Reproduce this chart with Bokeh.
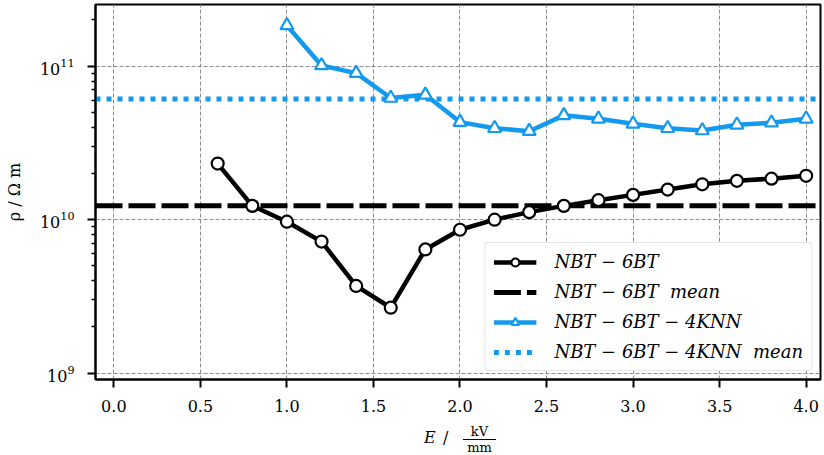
from bokeh.plotting import figure
from bokeh.models import Range1d, FixedTicker, Legend, LegendItem, Div
from bokeh.layouts import column
from bokeh.embed import file_html
from bokeh.resources import INLINE

# ---------------- data ----------------
E_NBT = [0.6, 0.8, 1.0, 1.2, 1.4, 1.6, 1.8, 2.0, 2.2, 2.4, 2.6, 2.8, 3.0, 3.2, 3.4, 3.6, 3.8, 4.0]
RHO_NBT = [2.32e10, 1.23e10, 9.7e9, 7.2e9, 3.7e9, 2.67e9, 6.4e9, 8.6e9, 1.0e10, 1.12e10,
           1.23e10, 1.34e10, 1.45e10, 1.57e10, 1.70e10, 1.79e10, 1.85e10, 1.93e10]
E_KNN = [1.0, 1.2, 1.4, 1.6, 1.8, 2.0, 2.2, 2.4, 2.6, 2.8, 3.0, 3.2, 3.4, 3.6, 3.8, 4.0]
RHO_KNN = [1.84e11, 1.01e11, 9.0e10, 6.2e10, 6.5e10, 4.32e10, 3.94e10, 3.77e10,
           4.78e10, 4.54e10, 4.21e10, 3.94e10, 3.81e10, 4.15e10, 4.28e10, 4.54e10]
MEAN_NBT = 1.23e10
MEAN_KNN = 6.1e10

SERIES_LABELS = ["NBT − 6BT", "NBT − 6BT  mean", "NBT − 6BT − 4KNN", "NBT − 6BT − 4KNN  mean"]

X_TICKS = [0.0, 0.5, 1.0, 1.5, 2.0, 2.5, 3.0, 3.5, 4.0]
X_TICK_LABELS = ["0.0", "0.5", "1.0", "1.5", "2.0", "2.5", "3.0", "3.5", "4.0"]
Y_TICKS = [1e9, 1e10, 1e11]
Y_MINOR = [m * 10.0 ** e for e in (8, 9, 10, 11) for m in range(2, 10)]

X_LO, X_HI = -0.106, 4.083
Y_LO, Y_HI = 9.1e8, 2.52e11

BLUE = "#1399ee"
FONT = "DejaVu Serif"

# ---------------- figure ----------------
p = figure(width=824, height=422, y_axis_type="log",
           x_range=Range1d(X_LO, X_HI), y_range=Range1d(Y_LO, Y_HI),
           output_backend="svg", toolbar_location=None,
           min_border_left=95, min_border_right=4, min_border_top=4, min_border_bottom=43)
p.background_fill_color = "white"
p.border_fill_color = "white"
p.outline_line_color = "black"
p.outline_line_width = 2

# axes
p.xaxis.ticker = FixedTicker(ticks=X_TICKS, minor_ticks=[])
p.xaxis.major_label_overrides = {t: l for t, l in zip(X_TICKS, X_TICK_LABELS)}
p.yaxis.ticker = FixedTicker(ticks=Y_TICKS, minor_ticks=Y_MINOR)
for ax in (p.xaxis[0], p.yaxis[0]):
    ax.axis_line_color = "black"
    ax.axis_line_width = 2
    ax.major_tick_line_color = "black"
    ax.major_tick_line_width = 2
    ax.minor_tick_line_color = "black"
    ax.minor_tick_line_width = 1.5
    ax.major_tick_in = 0
    ax.major_tick_out = 8
    ax.minor_tick_in = 0
    ax.minor_tick_out = 4
    ax.major_label_text_font = FONT
    ax.major_label_text_font_size = "16px"
    ax.major_label_text_color = "black"
p.xaxis.major_label_standoff = 12
p.yaxis.major_label_standoff = 13
p.xaxis.axis_label = None
p.yaxis.axis_label = "ρ / Ω m"
p.yaxis.axis_label_text_font = FONT
p.yaxis.axis_label_text_font_size = "16px"
p.yaxis.axis_label_text_font_style = "normal"
p.yaxis.axis_label_text_color = "black"
p.yaxis.axis_label_standoff = 13

# grid
for g in (p.xgrid[0], p.ygrid[0]):
    g.grid_line_color = "#8c8c8c"
    g.grid_line_width = 1
    g.grid_line_dash = "4 2"
p.ygrid.minor_grid_line_color = None

# ---------------- data renderers ----------------
mean_nbt = p.line([X_LO, X_HI], [MEAN_NBT, MEAN_NBT], line_color="black", line_width=5,
                  line_dash="27 6")
mean_knn = p.line([X_LO, X_HI], [MEAN_KNN, MEAN_KNN], line_color=BLUE, line_width=5,
                  line_dash="5 6")

l_nbt = p.line(E_NBT, RHO_NBT, line_color="black", line_width=4.5)
s_nbt = p.scatter(E_NBT, RHO_NBT, marker="circle", size=12, fill_color="white",
                  line_color="black", line_width=2.2)
l_knn = p.line(E_KNN, RHO_KNN, line_color=BLUE, line_width=4.5)
s_knn = p.scatter(E_KNN, RHO_KNN, marker="triangle", size=13, fill_color="white",
                  line_color=BLUE, line_width=2.2)

legend = Legend(items=[
    LegendItem(label=SERIES_LABELS[0], renderers=[l_nbt, s_nbt]),
    LegendItem(label=SERIES_LABELS[1], renderers=[mean_nbt]),
    LegendItem(label=SERIES_LABELS[2], renderers=[l_knn, s_knn]),
    LegendItem(label=SERIES_LABELS[3], renderers=[mean_knn]),
], location="bottom_right")
legend.margin = 8
legend.padding = 8
legend.spacing = 9
legend.glyph_width = 43
legend.glyph_height = 20
legend.label_height = 20
legend.label_standoff = 18
legend.label_text_font = FONT
legend.label_text_font_size = "18px"
legend.label_text_font_style = "italic"
legend.label_text_color = "black"
legend.border_line_color = "#cccccc"
legend.border_line_width = 1
legend.border_radius = 4
legend.background_fill_color = "white"
legend.background_fill_alpha = 1.0
p.add_layout(legend, "center")

# ---------------- x axis label: E / (kV over mm) ----------------
xlabel_html = (
    '<div style="position:relative;width:824px;height:33px;font-family:\'DejaVu Serif\';color:black;">'
    '<span style="position:absolute;left:424px;top:8px;font-size:16px;line-height:16px;font-style:italic;">E</span>'
    '<span style="position:absolute;left:443px;top:8px;font-size:16px;line-height:16px;">/</span>'
    '<span style="position:absolute;left:462px;top:3px;width:35px;text-align:center;font-size:13px;line-height:13px;">kV</span>'
    '<span style="position:absolute;left:463px;top:17px;width:33px;height:0;border-top:1.3px solid black;"></span>'
    '<span style="position:absolute;left:462px;top:19px;width:35px;text-align:center;font-size:13px;line-height:13px;">mm</span>'
    '</div>'
)
xlabel = Div(text=xlabel_html, width=824, height=33, margin=0)

layout = column(p, xlabel, spacing=0)
open("out.html", "w").write(file_html(layout, INLINE))
